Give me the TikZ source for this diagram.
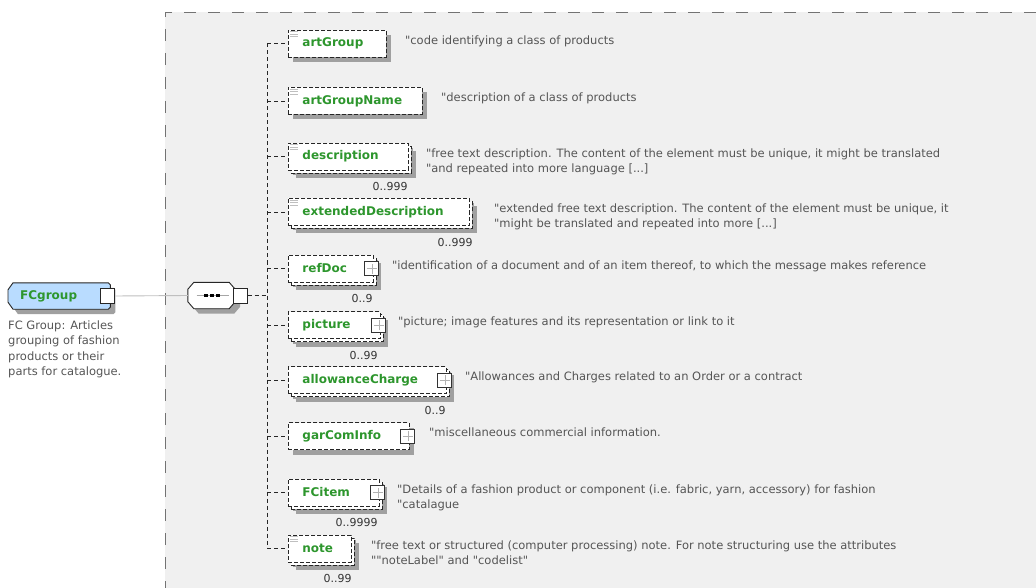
\documentclass[tikz,border=0pt]{standalone}
\usepackage{fontspec}
\setmainfont{DejaVu Sans}[Ligatures=TeXOff]
\usepackage{tikz}
\usetikzlibrary{positioning}
\usetikzlibrary{shadows}

\definecolor{bggray}{RGB}{240,240,240}
\definecolor{shadowgray}{RGB}{160,160,160}
\definecolor{lblgreen}{RGB}{45,150,45}
\definecolor{anngray}{RGB}{85,85,85}
\definecolor{fcblue}{RGB}{185,220,255}

\newcommand{\annfont}{\fontsize{11.5}{15}\selectfont}
\newcommand{\lblfont}{\fontsize{12}{14}\selectfont\bfseries}

\pgfdeclarelayer{back}
\pgfdeclarelayer{mid}
\pgfsetlayers{back,mid,main}

\begin{document}
\begin{tikzpicture}[x=1pt, y=-1pt, font=\annfont]%

            \tikzstyle{shd} = [drop shadow={shadow xshift=5pt, shadow yshift=-5pt, fill=shadowgray, opacity=1}]
            \tikzstyle{elem} = [rectangle, shd, draw=black!85, line width=0.9pt, dash pattern=on 4pt off 2pt, fill=white, minimum height=27pt, inner xsep=14pt, inner ysep=0pt, align=left, anchor=west, font=\lblfont, text=lblgreen]
            \tikzstyle{multi} = [drop shadow={shadow xshift=8pt, shadow yshift=-8pt, fill=shadowgray, opacity=1}, preaction={draw=black!85, line width=0.9pt, dash pattern=on 4pt off 2pt, fill=white, transform canvas={shift={(3pt,-3pt)}}}]
            \tikzstyle{root} = [rectangle, minimum height=26pt, inner xsep=12pt, inner ysep=0pt, align=left, anchor=west, font=\lblfont, text=lblgreen]
            \tikzstyle{rootline} = [shd, draw=black!85, line width=0.9pt, fill=fcblue]
            \tikzstyle{seqbox} = [rectangle, minimum width=47pt, minimum height=26pt, inner sep=0pt]
            \tikzstyle{seqline} = [shd, draw=black!85, line width=0.9pt, fill=white]
            \tikzstyle{openbox} = [rectangle, draw=black!85, line width=0.9pt, fill=white, minimum width=14pt, minimum height=15pt, inner sep=0pt]
            \tikzstyle{plusbox} = [rectangle, draw=black!80, line width=0.9pt, fill=white, minimum size=14pt, inner sep=0pt, path picture={\draw[black!30, line width=0.8pt] ([xshift=-5pt]path picture bounding box.center) -- ([xshift=5pt]path picture bounding box.center) ([yshift=-5pt]path picture bounding box.center) -- ([yshift=5pt]path picture bounding box.center);}]
            \tikzstyle{dot} = [rectangle, fill=black, minimum width=4pt, minimum height=3pt, inner sep=0pt]
            \tikzstyle{ann} = [inner sep=0pt, align=left, text=anngray]
            \tikzstyle{occ} = [inner sep=0pt, font=\fontsize{11}{13}\selectfont, text=black!80]
            \tikzstyle{branch} = [draw=black!85, line width=0.9pt, dash pattern=on 4pt off 3pt]
            \tikzstyle{conn} = [draw=black!25, line width=0.9pt]
            \tikzstyle{frame} = [draw=black!55, line width=0.9pt, dash pattern=on 12pt off 12pt]
            \tikzstyle{docline} = [draw=black!25, line width=0.8pt]
        %%
            \useasboundingbox (0,0) rectangle (1036,588);
            \begin{pgfonlayer}{back}
                \fill[bggray] (165,12) rectangle (1036,588);
            \end{pgfonlayer}
            \draw[frame] (1036,12) -- (165,12) -- (165,588);

            %% Root element and sequence
            \node [root, text width=78pt] (fcgroup) at (8,296) {FCgroup};
            \node [seqbox] (seq) at (211.5,295.5) {};
            \begin{pgfonlayer}{mid}
                \draw[rootline] ([xshift=5pt]fcgroup.north west) -- ([xshift=-2pt]fcgroup.north east) -- ([yshift=-2pt]fcgroup.north east)
                    -- ([yshift=2pt]fcgroup.south east) -- ([xshift=-2pt]fcgroup.south east) -- ([xshift=5pt]fcgroup.south west)
                    -- ([yshift=7pt]fcgroup.south west) -- ([yshift=-7pt]fcgroup.north west) -- cycle;
                \draw[seqline] ([xshift=6pt]seq.north west) -- ([xshift=-6pt]seq.north east) -- ([yshift=-7pt]seq.north east)
                    -- ([yshift=7pt]seq.south east) -- ([xshift=-6pt]seq.south east) -- ([xshift=6pt]seq.south west)
                    -- ([yshift=7pt]seq.south west) -- ([yshift=-7pt]seq.north west) -- cycle;
            \end{pgfonlayer}
            \node [openbox] (fcgroup_sq) at ([xshift=-2.5pt]fcgroup.east) {};
            \node [ann, font=\fontsize{11.5}{15.5}\selectfont] (fcgroup_doc) [below right = 11pt and 0pt of fcgroup.south west] {FC Group: Articles\\grouping of fashion\\products or their\\parts for catalogue.};

            \draw[black!35, line width=0.8pt] ([xshift=-15pt]seq.center) -- ([xshift=17pt]seq.center);
            \foreach \dx in {-6,0,6}
                \node [dot] at ([xshift=\dx pt]seq.center) {};
            \node [openbox] (seq_sq) at ([xshift=5pt]seq.east) {};
            \coordinate (trunk) at (267,295.5);

            \draw[conn] (fcgroup_sq.east) -- (seq.west);

            \begin{scope}[node distance = 6pt and 19pt]%
                %% Children
                \node [elem, text width=70pt] (el_artGroup) at (288,43.5) {artGroup};
                \node [elem, text width=106pt] (el_artGroupName) at (288,101) {artGroupName};
                \node [elem, multi, text width=92pt] (el_description) at (288,156.5) {description};
                \node [elem, multi, text width=153pt] (el_extendedDescription) at (288,212) {extendedDescription};
                \node [elem, multi, text width=57pt] (el_refDoc) at (288,268.5) {refDoc};
                \node [elem, multi, text width=64pt] (el_picture) at (288,325) {picture};
                \node [elem, multi, text width=130pt] (el_allowanceCharge) at (288,380) {allowanceCharge};
                \node [elem, text width=93pt] (el_garComInfo) at (288,436) {garComInfo};
                \node [elem, multi, text width=63pt] (el_FCitem) at (288,492.5) {FCitem};
                \node [elem, multi, text width=35pt] (el_note) at (288,548.5) {note};

                %% Expand boxes
                \foreach \e in {refDoc, picture, allowanceCharge, garComInfo, FCitem}
                    \node [plusbox] (pl_\e) at ([xshift=-2pt]el_\e.east) {};

                %% Documentation icons
                \foreach \e in {artGroup, artGroupName, description, extendedDescription, note}
                    \foreach \dy in {2,4.5,7}
                        \draw[docline] ([shift={(2pt,-\dy pt)}]el_\e.north west) -- ++(8,0);

                %% Occurrences
                \node [occ, below left = 12pt and 1pt of el_description.south east] (occ_description) {0..999};
                \node [occ, below left = 12pt and -3pt of el_extendedDescription.south east] (occ_extendedDescription) {0..999};
                \node [occ, below left = 12pt and 1pt of el_refDoc.south east] (occ_refDoc) {0..9};
                \node [occ, below left = 12pt and 3pt of el_picture.south east] (occ_picture) {0..99};
                \node [occ, below left = 12pt and 1pt of el_allowanceCharge.south east] (occ_allowanceCharge) {0..9};
                \node [occ, below left = 12pt and 2pt of el_FCitem.south east] (occ_FCitem) {0..9999};
                \node [occ, below left = 12pt and 0pt of el_note.south east] (occ_note) {0..99};

                %% Annotations
                \node [ann, below right = of el_artGroup.north east, xshift=-1pt] (ann_artGroup) {"code identifying a class of products};
                \node [ann, below right = of el_artGroupName.north east, xshift=-1pt] (ann_artGroupName) {"description of a class of products};
                \node [ann, below right = of el_description.north east, xshift=-2pt] (ann_description) {"free text description. The content of the element must be unique, it might be translated\\"and repeated into more language [...]};
                \node [ann, below right = of el_extendedDescription.north east, xshift=5pt] (ann_extendedDescription) {"extended free text description. The content of the element must be unique, it\\"might be translated and repeated into more [...]};
                \node [ann, below right = of el_refDoc.north east, xshift=-1pt] (ann_refDoc) {"identification of a document and of an item thereof, to which the message makes reference};
                \node [ann, below right = of el_picture.north east, xshift=-2pt] (ann_picture) {"picture; image features and its representation or link to it};
                \node [ann, below right = of el_allowanceCharge.north east, xshift=-1pt] (ann_allowanceCharge) {"Allowances and Charges related to an Order or a contract};
                \node [ann, below right = of el_garComInfo.north east] (ann_garComInfo) {"miscellaneous commercial information.};
                \node [ann, below right = of el_FCitem.north east, xshift=-2pt] (ann_FCitem) {"Details of a fashion product or component (i.e. fabric, yarn, accessory) for fashion\\"catalague};
                \node [ann, below right = of el_note.north east] (ann_note) {"free text or structured (computer processing) note. For note structuring use the attributes\\""noteLabel" and "codelist"};

                %% Connectors
                \draw[branch] (seq_sq.east) -- (trunk);
                \draw[branch] (el_artGroup.west -| trunk) -- (el_note.west -| trunk);
                \foreach \e in {artGroup, artGroupName, description, extendedDescription, refDoc, picture, allowanceCharge, garComInfo, FCitem, note}
                    \draw[branch] (el_\e.west -| trunk) -- (el_\e.west);
            \end{scope}%
\end{tikzpicture}
\end{document}
